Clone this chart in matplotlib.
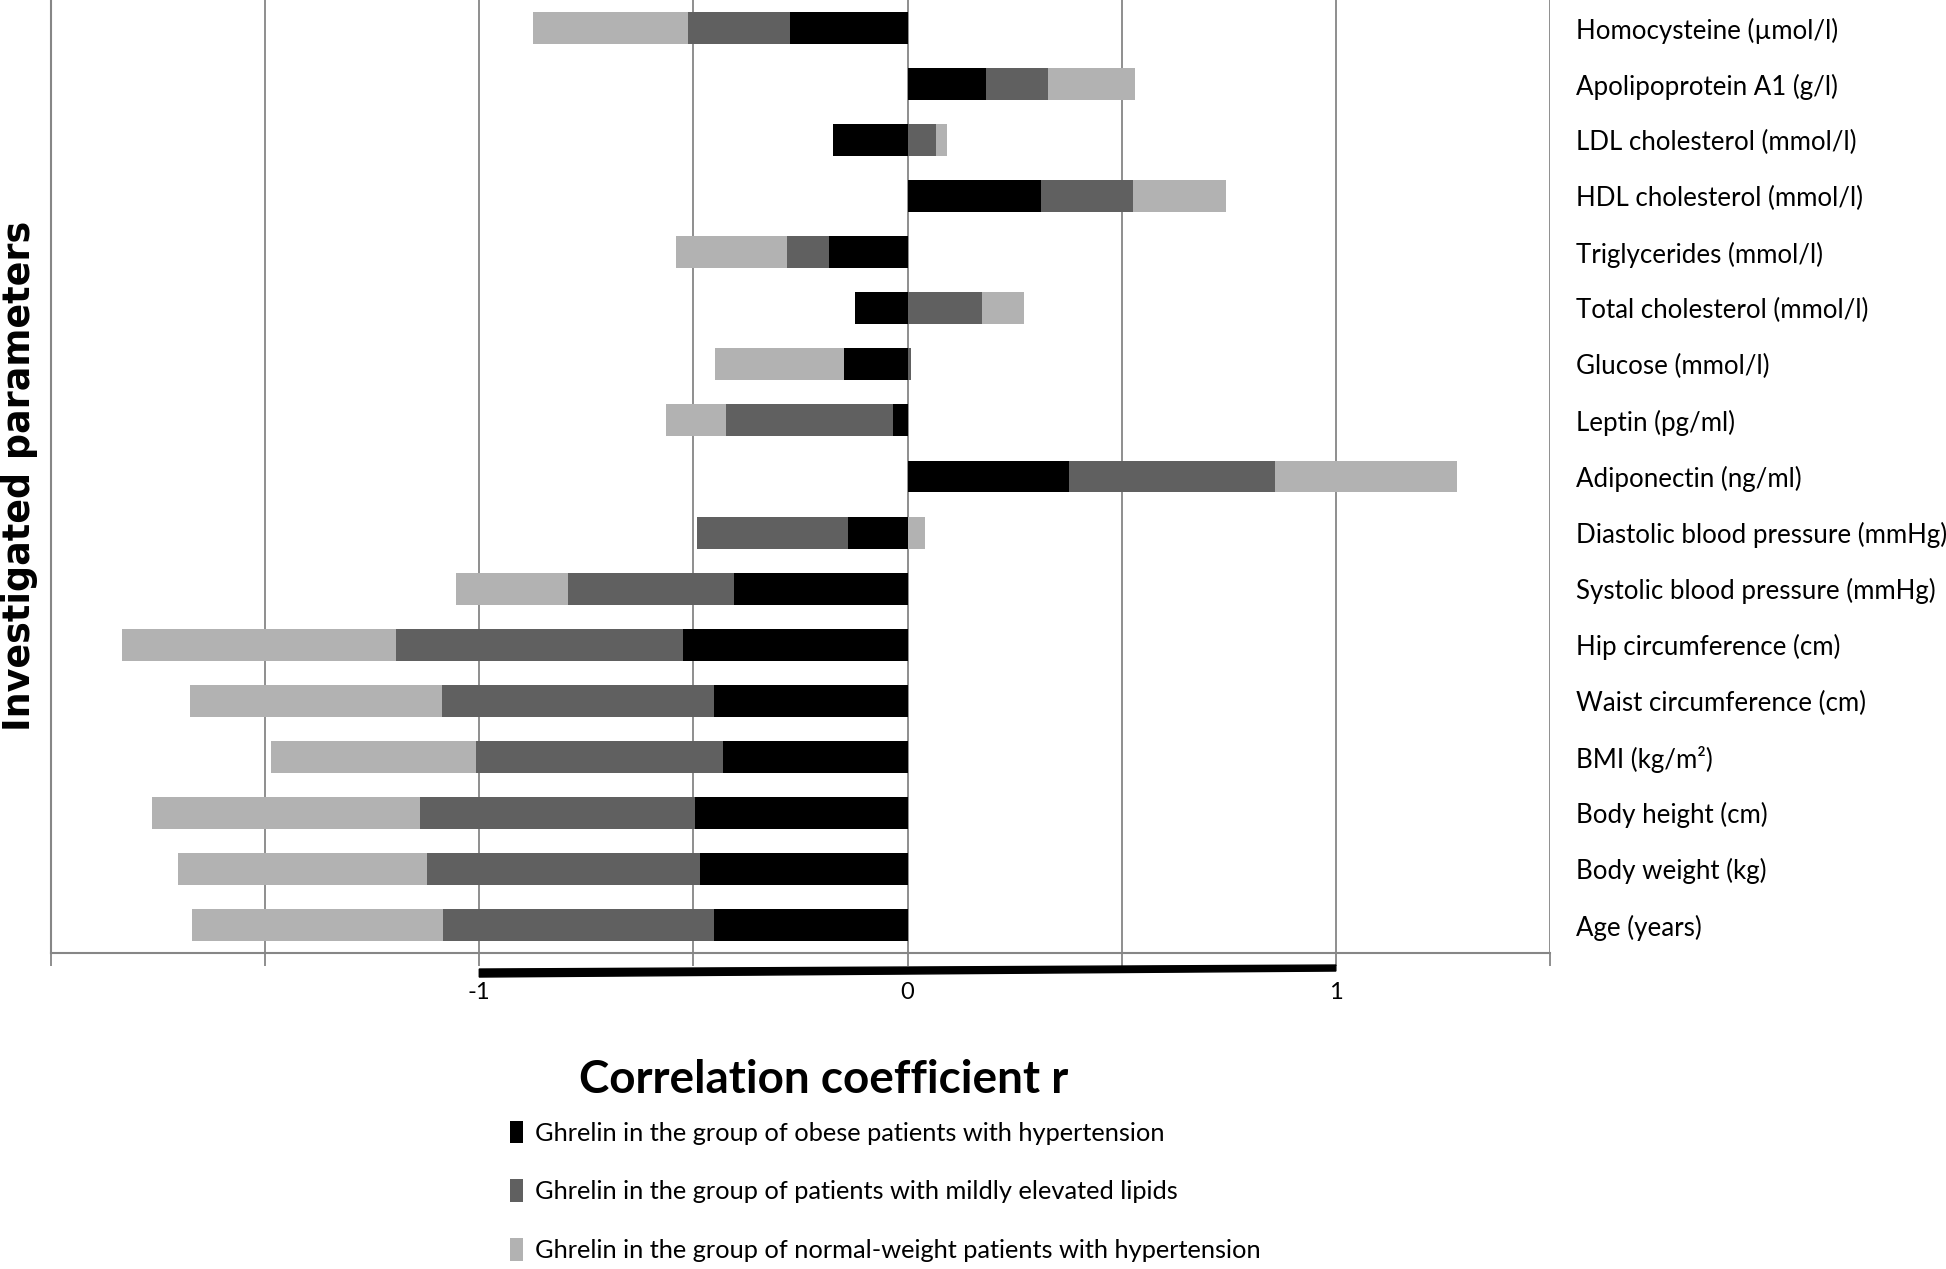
import numpy as np
import matplotlib
matplotlib.use("Agg")
import matplotlib.pyplot as plt
import matplotlib.transforms as mtransforms

# categories listed bottom to top (Excel order)
categories = ["Age (years)", "Body weight (kg)", "Body height (cm)", "BMI (kg/m\u00b2)",
              "Waist circumference (cm)", "Hip circumference (cm)",
              "Systolic blood pressure (mmHg)", "Diastolic blood pressure (mmHg)",
              "Adiponectin (ng/ml)", "Leptin (pg/ml)", "Glucose (mmol/l)",
              "Total cholesterol (mmol/l)", "Triglycerides (mmol/l)",
              "HDL cholesterol (mmol/l)", "LDL cholesterol (mmol/l)",
              "Apolipoprotein A1 (g/l)", "Homocysteine (\u00b5mol/l)"]

obese_htn = [-0.452, -0.484, -0.496, -0.431, -0.452, -0.525, -0.406, -0.139,
             0.378, -0.034, -0.148, -0.123, -0.183, 0.311, -0.174, 0.182, -0.275]
mild_lipids = [-0.633, -0.639, -0.643, -0.577, -0.635, -0.670, -0.387, -0.352,
               0.481, -0.389, 0.009, 0.174, -0.098, 0.216, 0.066, 0.146, -0.237]
normal_htn = [-0.586, -0.580, -0.626, -0.478, -0.589, -0.639, -0.262, 0.041,
              0.423, -0.142, -0.301, 0.098, -0.259, 0.217, 0.027, 0.204, -0.363]

series_names = ["Ghrelin in the group of obese patients with hypertension",
                "Ghrelin in the group of patients with mildly elevated lipids",
                "Ghrelin in the group of normal-weight patients with hypertension"]
series_colors = ["#000000", "#606060", "#b2b2b2"]

plt.rcParams['font.family'] = ['Lato', 'DejaVu Sans']

fig = plt.figure(figsize=(19.46, 12.69), dpi=100)
ax = fig.add_axes([0.0262, 0.249, 0.7703, 0.751])

y = np.arange(len(categories))
pos_base = np.zeros(len(categories))
neg_base = np.zeros(len(categories))
handles = []
for vals, name, col in zip([obese_htn, mild_lipids, normal_htn], series_names, series_colors):
    vals = np.array(vals)
    left = np.where(vals >= 0, pos_base, neg_base)
    b = ax.barh(y, vals, left=left, height=0.57, color=col, label=name)
    handles.append(b)
    pos_base = pos_base + np.where(vals >= 0, vals, 0)
    neg_base = neg_base + np.where(vals < 0, vals, 0)

ax.set_xlim(-2, 1.5)
ax.set_ylim(-0.5, len(categories) - 0.5)

ticks = np.arange(-2, 1.51, 0.5)
ax.set_xticks(ticks)
ax.set_xticklabels(["" if t not in (-1, 0, 1) else "%d" % t for t in ticks], fontsize=17)
ax.tick_params(axis='x', length=9, width=1.3, color="#868686", pad=12)
ax.grid(axis='x', color="#868686", linewidth=1.3)
ax.set_axisbelow(True)

ax.yaxis.tick_right()
ax.set_yticks(y)
ax.set_yticklabels(categories, fontsize=18.6)
ax.tick_params(axis='y', length=0, pad=19)

for s in ["top", "right"]:
    ax.spines[s].set_visible(False)
for s in ["left", "bottom"]:
    ax.spines[s].set_color("#868686")
    ax.spines[s].set_linewidth(1.5)

# thick black line under the axis from -1 to 1
trans = mtransforms.blended_transform_factory(ax.transData, ax.transAxes)
ax.fill([-1, 1, 1, -1], [-0.0168, -0.0126, -0.0189, -0.0252], color="black",
        transform=trans, clip_on=False)

fig.text(0.423, 0.149, "Correlation coefficient r", fontsize=33, fontweight='bold',
         ha='center', va='center')
fig.text(0.01, 0.625, "Investigated parameters", fontsize=26.3, fontweight='bold',
         rotation=90, ha='center', va='center', family='DejaVu Sans')

fig.legend(handles=handles, loc='upper left', bbox_to_anchor=(0.262, 0.117),
           frameon=False, fontsize=18.3, handlelength=0.5, handleheight=1.0,
           handletextpad=0.5, labelspacing=1.36, borderpad=0, borderaxespad=0)

fig.savefig("out.png", dpi=100)
